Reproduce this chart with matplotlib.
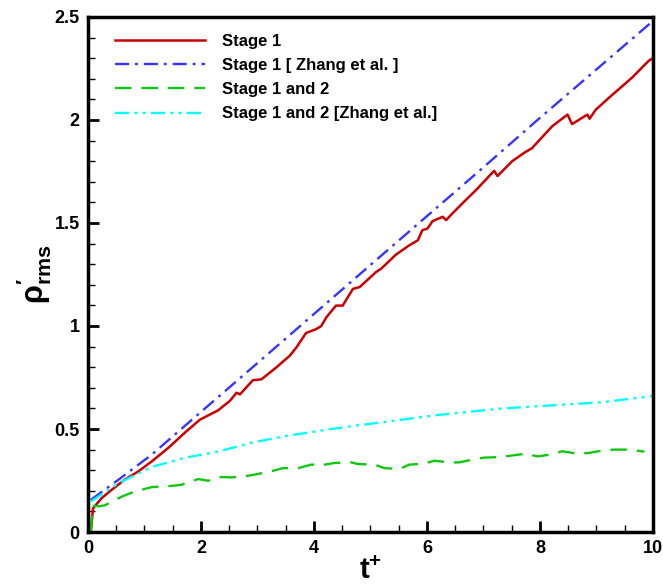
import matplotlib
matplotlib.use("Agg")
import matplotlib.pyplot as plt
from matplotlib.ticker import MultipleLocator

plt.rcParams['font.family'] = ['Liberation Sans', 'DejaVu Sans']
plt.rcParams['font.weight'] = 'bold'
plt.rcParams['mathtext.fontset'] = 'custom'
plt.rcParams['mathtext.rm'] = 'Liberation Sans:bold'
plt.rcParams['mathtext.it'] = 'Liberation Sans:bold'
plt.rcParams['mathtext.bf'] = 'Liberation Sans:bold'

# Stage 1 (present)
t_s1 = [0.05, 0.09, 0.24, 0.42, 0.65, 0.89, 1.13, 1.42, 1.71, 1.98, 2.3, 2.51, 2.63, 2.69,
        2.92, 3.07, 3.33, 3.57, 3.69, 3.86, 4.04, 4.13, 4.22, 4.39, 4.51, 4.6, 4.69, 4.81,
        5.1, 5.19, 5.45, 5.69, 5.84, 5.92, 6.01, 6.1, 6.28, 6.34, 6.45, 6.57, 6.72, 6.87,
        7.19, 7.25, 7.51, 7.72, 7.86, 8.22, 8.49, 8.57, 8.84, 8.88, 8.99, 9.22, 9.63, 9.93, 10.0]
y_s1 = [0.0, 0.115, 0.164, 0.205, 0.254, 0.294, 0.343, 0.408, 0.481, 0.545, 0.59, 0.636, 0.676, 0.668,
        0.737, 0.741, 0.798, 0.855, 0.896, 0.966, 0.985, 1.0, 1.042, 1.099, 1.099, 1.14, 1.18, 1.189,
        1.262, 1.278, 1.346, 1.392, 1.416, 1.465, 1.473, 1.509, 1.53, 1.514, 1.546, 1.579, 1.62, 1.66,
        1.753, 1.728, 1.80, 1.84, 1.863, 1.97, 2.026, 1.98, 2.026, 2.006, 2.05, 2.107, 2.205, 2.288, 2.30]

# Stage 1 [Zhang et al.]
t_s1z = [0.05, 0.54, 1.13, 1.71, 2.0, 2.3, 3.0, 4.0, 5.0, 6.0, 7.0, 8.0, 9.0, 10.0]
y_s1z = [0.156, 0.254, 0.376, 0.514, 0.583, 0.654, 0.82, 1.058, 1.296, 1.533, 1.77, 2.01, 2.245, 2.48]

# Stage 1 and 2 (present)
t_s12 = [0.05, 0.08, 0.2, 0.3, 0.6, 0.83, 1.13, 1.48, 1.65, 1.95, 2.13, 2.36, 2.54, 2.83,
         3.0, 3.3, 3.45, 3.72, 3.95, 4.19, 4.36, 4.66, 4.78, 5.07, 5.25, 5.51, 5.69, 5.95,
         6.13, 6.4, 6.57, 6.87, 7.01, 7.31, 7.49, 7.75, 7.96, 8.19, 8.4, 8.66, 8.87, 9.1,
         9.31, 9.58, 9.85]
y_s12 = [0.0, 0.127, 0.125, 0.13, 0.172, 0.197, 0.218, 0.224, 0.229, 0.257, 0.249, 0.267, 0.265, 0.273,
         0.281, 0.299, 0.31, 0.31, 0.327, 0.327, 0.335, 0.338, 0.33, 0.327, 0.31, 0.306, 0.327, 0.332,
         0.346, 0.338, 0.338, 0.355, 0.361, 0.364, 0.371, 0.38, 0.367, 0.376, 0.392, 0.38, 0.384, 0.395,
         0.40, 0.40, 0.39]

# Stage 1 and 2 [Zhang et al.]
t_s12z = [0.05, 0.54, 1.13, 1.71, 2.3, 2.89, 3.48, 4.07, 4.66, 5.22, 6.16, 7.34, 8.52, 9.1, 10.0]
y_s12z = [0.148, 0.237, 0.316, 0.36, 0.39, 0.433, 0.465, 0.49, 0.514, 0.533, 0.567, 0.60, 0.62, 0.63, 0.66]

labels = ["Stage 1", "Stage 1 [ Zhang et al. ]", "Stage 1 and 2", "Stage 1 and 2 [Zhang et al.]"]
x_ticks = [0, 2, 4, 6, 8, 10]
x_ticklabels = ["0", "2", "4", "6", "8", "10"]
y_ticks = [0, 0.5, 1, 1.5, 2, 2.5]
y_ticklabels = ["0", "0.5", "1", "1.5", "2", "2.5"]

fig = plt.figure(figsize=(6.63, 5.84), dpi=100)
ax = fig.add_axes([0.1327, 0.089, 0.852, 0.882])

ax.plot(t_s1, y_s1, color='#cc0000', lw=1.8, ls='-', label=labels[0])
ax.plot(t_s1z, y_s1z, color='#3535ff', lw=1.7, ls=(0, (6, 2.5, 1.2, 2.5)), label=labels[1])
ax.plot(t_s12, y_s12, color='#11c811', lw=1.7, ls=(0, (7, 4.2)), label=labels[2])
ax.plot(t_s12z, y_s12z, color='#00ffff', lw=1.7, ls=(0, (6, 2.2, 1.3, 2.2, 1.3, 2.2)), label=labels[3])

ax.set_xlim(0, 10)
ax.set_ylim(0, 2.5)
ax.set_xticks(x_ticks)
ax.set_xticklabels(x_ticklabels)
ax.set_yticks(y_ticks)
ax.set_yticklabels(y_ticklabels)
ax.xaxis.set_minor_locator(MultipleLocator(0.5))
ax.yaxis.set_minor_locator(MultipleLocator(0.1))
ax.tick_params(which='major', direction='in', length=8, width=2, labelsize=13, pad=6)
ax.tick_params(which='minor', direction='in', length=5, width=1)
for lab in ax.get_xticklabels() + ax.get_yticklabels():
    lab.set_fontweight('bold')
for s in ax.spines.values():
    s.set_linewidth(2.5)

ax.set_xlabel(r"$\mathbf{t^{+}}$", fontsize=21, labelpad=0)
ax.set_ylabel(r"$\mathbf{\rho^{\prime}_{rms}}$", fontsize=22, labelpad=0)

leg = ax.legend(loc='upper left', frameon=False, fontsize=12, handlelength=5.4,
                handletextpad=1.0, labelspacing=0.55, bbox_to_anchor=(0.022, 0.996))
for t in leg.get_texts():
    t.set_fontweight('bold')

fig.savefig("out.png", dpi=100)
